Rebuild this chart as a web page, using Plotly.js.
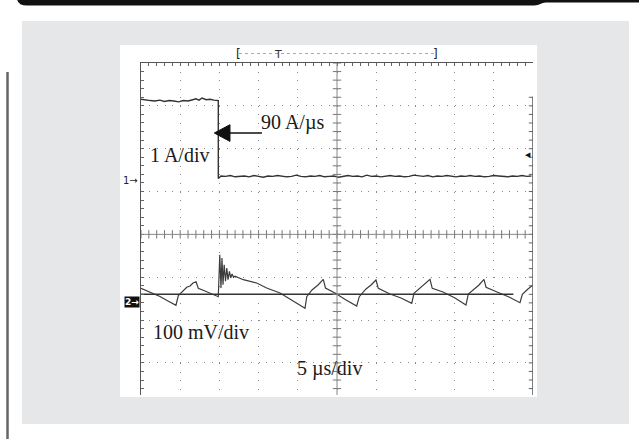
<!DOCTYPE html>
<html>
<head>
<meta charset="utf-8">
<script src="https://cdn.plot.ly/plotly-3.0.1.min.js"></script>
<style>html,body{margin:0;padding:0;background:#fff;}#chart{width:639px;height:439px;}</style>
</head>
<body>
<div id="chart"></div>
<script>
// ---- Data read from the oscilloscope capture ----
// Channel 1: load current (A), time in microseconds
const ch1Time = [0, 0.6, 1.2, 1.8, 2.4, 3.0, 3.6, 4.2, 4.8, 5.4, 6.0, 6.6, 7.0, 7.4, 7.8, 8.3, 8.8, 9.3, 9.86, 9.86,
  10.2, 10.8, 11.4, 12.0, 12.6, 13.2, 13.8, 14.4, 15.0, 15.6, 16.2, 16.8, 17.4, 18.0, 18.6, 19.2, 19.8, 20.4, 21.0, 21.6,
  22.2, 22.8, 23.4, 24.0, 24.6, 25.2, 25.8, 26.4, 27.0, 27.6, 28.2, 28.8, 29.4, 30.0, 30.6, 31.2, 31.8, 32.4, 33.0, 33.6,
  34.2, 34.8, 35.4, 36.0, 36.6, 37.2, 37.8, 38.4, 39.0, 39.6, 40.2, 40.8, 41.4, 42.0, 42.6, 43.2, 43.8, 44.4, 45.0, 45.6,
  46.2, 46.8, 47.4, 48.0, 48.6, 49.2, 49.8];
const ch1Amps = [1.90, 1.88, 1.87, 1.86, 1.88, 1.85, 1.87, 1.86, 1.84, 1.87, 1.86, 1.89, 1.91, 1.88, 1.93, 1.89, 1.90, 1.88, 1.87, 0.05,
  0.11, 0.10, 0.12, 0.09, 0.10, 0.11, 0.09, 0.12, 0.10, 0.08, 0.11, 0.10, 0.12, 0.11, 0.09, 0.10, 0.13, 0.10, 0.09, 0.11,
  0.10, 0.12, 0.09, 0.10, 0.11, 0.08, 0.10, 0.12, 0.10, 0.11, 0.09, 0.13, 0.10, 0.11, 0.09, 0.10, 0.12, 0.10, 0.11, 0.09,
  0.10, 0.13, 0.11, 0.10, 0.12, 0.09, 0.11, 0.10, 0.12, 0.10, 0.09, 0.11, 0.10, 0.12, 0.10, 0.11, 0.09, 0.10, 0.12, 0.11,
  0.10, 0.09, 0.11, 0.10, 0.12, 0.10, 0.11];
// Channel 2: output voltage ripple (mV), time in microseconds
const ch2Time = [0, 1.15, 2.42, 3.44, 4.46, 4.76, 5.23, 5.83, 6.25, 6.63, 7.02, 7.31, 8.16, 9.06, 9.86,
  10.05, 10.20, 10.33, 10.46, 10.61, 10.78, 10.94, 11.10, 11.28, 11.44, 11.61, 11.80, 11.99, 13.05, 14.76,
  16.03, 17.73, 19.26, 20.92, 21.14, 21.81, 22.58, 23.25, 23.53, 24.74, 26.15, 27.51, 27.84, 28.70, 29.34,
  29.97, 30.27, 31.76, 33.16, 34.53, 34.82, 35.59, 36.22, 36.86, 37.15, 38.52, 40.05, 41.45, 41.75, 42.47,
  43.11, 43.75, 44.01, 45.41, 46.94, 48.34, 48.64, 49.36, 50];
const ch2mV = [33.1, 24.5, 14.0, 3.5, -6.5, 15.9, 24.5, 35.5, 38.5, 45.5, 48.5, 33.1, 26.8, 19.8, 13.5,
  111.6, 33.8, 103.9, 41.5, 88.2, 49.5, 80.5, 53.2, 72.8, 57.2, 66.5, 58.8, 61.2, 53.2, 45.5,
  33.8, 22.2, 5.8, -13.5, 13.5, 29.2, 40.8, 54.1, 33.8, 22.2, 5.8, -8.2, 13.5, 31.5, 40.8,
  52.5, 33.1, 19.8, 10.5, -1.9, 21.5, 33.8, 45.5, 54.1, 33.1, 24.5, 10.5, -5.8, 19.8, 31.5,
  40.8, 54.1, 35.5, 24.5, 12.8, -0.5, 19.1, 31.5, 40.8];
// Reference (average) level drawn on channel 2
const refTime = [0, 47.5];
const refmV = [19.1, 19.1];

// Scope settings
const ch1PerDiv = 1;     // A/div
const ch1OffsetDiv = 1.253;
const ch2PerDiv = 100;   // mV/div
const ch2OffsetDiv = -1.59;

// ---- Helpers for layout positioning (pixel -> paper) ----
const L = 141, T = 63, W = 392, H = 332;
const X = px => (px - L) / W;
const Y = py => (T + H - py) / H;

const ch1Div = ch1Amps.map(v => v / ch1PerDiv + ch1OffsetDiv);
const ch2Div = ch2mV.map(v => v / ch2PerDiv + ch2OffsetDiv);
const refDiv = refmV.map(v => v / ch2PerDiv + ch2OffsetDiv);

// graticule tick positions (decoration)
const yTicks = [], xTicks = [];
for (let k = -18; k <= 20; k++) yTicks.push(k * 0.2);
for (let k = 0; k <= 50; k++) xTicks.push(k);
const rightTicks = yTicks.filter(v => v <= 3.2);

const traces = [
  {x: ch1Time, y: ch1Div, mode: 'lines', line: {color: '#333', width: 1.4}, hoverinfo: 'skip'},
  {x: ch2Time, y: ch2Div, mode: 'lines', line: {color: '#3c3c3c', width: 1.2}, hoverinfo: 'skip'},
  {x: refTime, y: refDiv, mode: 'lines', line: {color: '#333', width: 1.4}, hoverinfo: 'skip'},
  {x: yTicks.map(() => 25), y: yTicks, mode: 'markers', marker: {symbol: 'line-ew', size: 6, line: {color: '#777', width: 1}}, hoverinfo: 'skip'},
  {x: xTicks, y: xTicks.map(() => 0), mode: 'markers', marker: {symbol: 'line-ns', size: 6, line: {color: '#777', width: 1}}, hoverinfo: 'skip'},
  {x: rightTicks.map(() => 50), y: rightTicks, mode: 'markers', marker: {symbol: 'line-ew', size: 6, line: {color: '#666', width: 1}}, hoverinfo: 'skip'}
];

const shapes = [
  // gray panel
  {type: 'rect', xref: 'paper', yref: 'paper', x0: X(22), x1: X(629), y0: Y(424), y1: Y(21), fillcolor: '#e6e7e9', line: {width: 0}, layer: 'below'},
  // white screen panel
  {type: 'rect', xref: 'paper', yref: 'paper', x0: X(120), x1: X(537), y0: Y(397), y1: Y(45), fillcolor: '#ffffff', line: {width: 0}, layer: 'below'},
  // left page rule
  {type: 'line', xref: 'paper', yref: 'paper', x0: X(7.5), x1: X(7.5), y0: Y(439), y1: Y(72), line: {color: '#666', width: 2.5}},
  // top black bar
  {type: 'path', xref: 'paper', yref: 'paper',
   path: `M ${X(17)},${Y(-1)} L ${X(639)},${Y(-1)} L ${X(639)},${Y(2.5)} L ${X(546)},${Y(2.5)} C ${X(541)},${Y(2.5)} ${X(540)},${Y(5.5)} ${X(534)},${Y(5.5)} L ${X(27)},${Y(5.5)} Q ${X(18)},${Y(5.5)} ${X(17)},${Y(-1)} Z`,
   fillcolor: '#111', line: {width: 0}},
  // center cross
  {type: 'line', xref: 'x', yref: 'y', x0: 25, x1: 25, y0: -3.75, y1: 4, line: {color: '#888', width: 1}},
  {type: 'line', xref: 'x', yref: 'y', x0: 0, x1: 50, y0: 0, y1: 0, line: {color: '#888', width: 1}},
  // right border (partial)
  {type: 'line', xref: 'x', yref: 'y', x0: 50, x1: 50, y0: -3.75, y1: 3.21, line: {color: '#555', width: 1.5}},
  // trigger bracket line
  {type: 'line', xref: 'paper', yref: 'paper', x0: X(239), x1: X(435), y0: Y(53.5), y1: Y(53.5), line: {color: '#aaa', width: 1, dash: 'dot'}},
  // arrow for slew-rate label
  {type: 'line', xref: 'x', yref: 'y', x0: 11.2, x1: 15.43, y0: 2.366, y1: 2.366, line: {color: '#111', width: 1.5}},
  {type: 'path', xref: 'x', yref: 'y', path: 'M 9.35,2.366 L 11.35,2.56 L 11.35,2.17 Z', fillcolor: '#111', line: {color: '#111', width: 1}}
];

const serif = {family: 'Liberation Serif, Times New Roman, serif', size: 20, color: '#1a1a1a'};
const annotations = [
  {x: 15.1, y: 2.62, xref: 'x', yref: 'y', text: '90 A/µs', showarrow: false, xanchor: 'left', yanchor: 'middle', font: serif},
  {x: 0.85, y: 1.86, xref: 'x', yref: 'y', text: '1 A/div', showarrow: false, xanchor: 'left', yanchor: 'middle', font: serif},
  {x: 1.3, y: -2.28, xref: 'x', yref: 'y', text: '100 mV/div', showarrow: false, xanchor: 'left', yanchor: 'middle', font: serif},
  {x: 19.6, y: -3.14, xref: 'x', yref: 'y', text: '5 µs/div', showarrow: false, xanchor: 'left', yanchor: 'middle', font: serif},
  {x: X(140), y: ch1OffsetDiv, xref: 'paper', yref: 'y', text: '1→', showarrow: false, xanchor: 'right', yanchor: 'middle', font: {family: 'DejaVu Sans', size: 10, color: '#222'}},
  {x: X(139.5), y: ch2OffsetDiv, xref: 'paper', yref: 'y', text: '<b>2→</b>', showarrow: false, xanchor: 'right', yanchor: 'middle', bgcolor: '#111', borderpad: 0, font: {family: 'DejaVu Sans', size: 9, color: '#fff'}},
  {x: 49.4, y: 1.85, xref: 'x', yref: 'y', text: '◀', showarrow: false, xanchor: 'center', yanchor: 'middle', font: {family: 'DejaVu Sans', size: 7, color: '#111'}},
  {x: X(238.5), y: Y(54), xref: 'paper', yref: 'paper', text: '[', showarrow: false, xanchor: 'center', yanchor: 'middle', font: {family: 'DejaVu Sans', size: 12, color: '#222'}},
  {x: X(435), y: Y(54), xref: 'paper', yref: 'paper', text: ']', showarrow: false, xanchor: 'center', yanchor: 'middle', font: {family: 'DejaVu Sans', size: 12, color: '#222'}},
  {x: X(277.7), y: Y(54), xref: 'paper', yref: 'paper', text: 'T', showarrow: false, xanchor: 'center', yanchor: 'middle', font: {family: 'DejaVu Sans', size: 11, color: '#333'}}
];

const layout = {
  width: 639, height: 439,
  margin: {l: L, r: 639 - L - W, t: T, b: 439 - T - H, pad: 0},
  paper_bgcolor: '#ffffff', plot_bgcolor: 'rgba(0,0,0,0)',
  showlegend: false,
  xaxis: {range: [0, 50], side: 'top', showline: true, linecolor: '#555', linewidth: 1.5, mirror: false,
    tick0: 0, dtick: 5, ticks: 'inside', ticklen: 3, tickcolor: '#666', showticklabels: false,
    showgrid: true, gridcolor: '#8a8a8a', gridwidth: 1, griddash: '1px,7.57px', zeroline: false,
    minor: {dtick: 1, ticks: 'inside', ticklen: 3, tickcolor: '#666', showgrid: false}, fixedrange: true},
  yaxis: {range: [-3.75, 4], showline: true, linecolor: '#555', linewidth: 1.5,
    tick0: 0, dtick: 1, ticks: 'inside', ticklen: 3, tickcolor: '#666', showticklabels: false,
    showgrid: true, gridcolor: '#8a8a8a', gridwidth: 1, griddash: '1px,6.84px', zeroline: false,
    minor: {dtick: 0.2, ticks: 'inside', ticklen: 3, tickcolor: '#666', showgrid: false}, fixedrange: true},
  shapes: shapes,
  annotations: annotations
};

Plotly.newPlot('chart', traces, layout, {staticPlot: true, displayModeBar: false});
</script>
</body>
</html>
